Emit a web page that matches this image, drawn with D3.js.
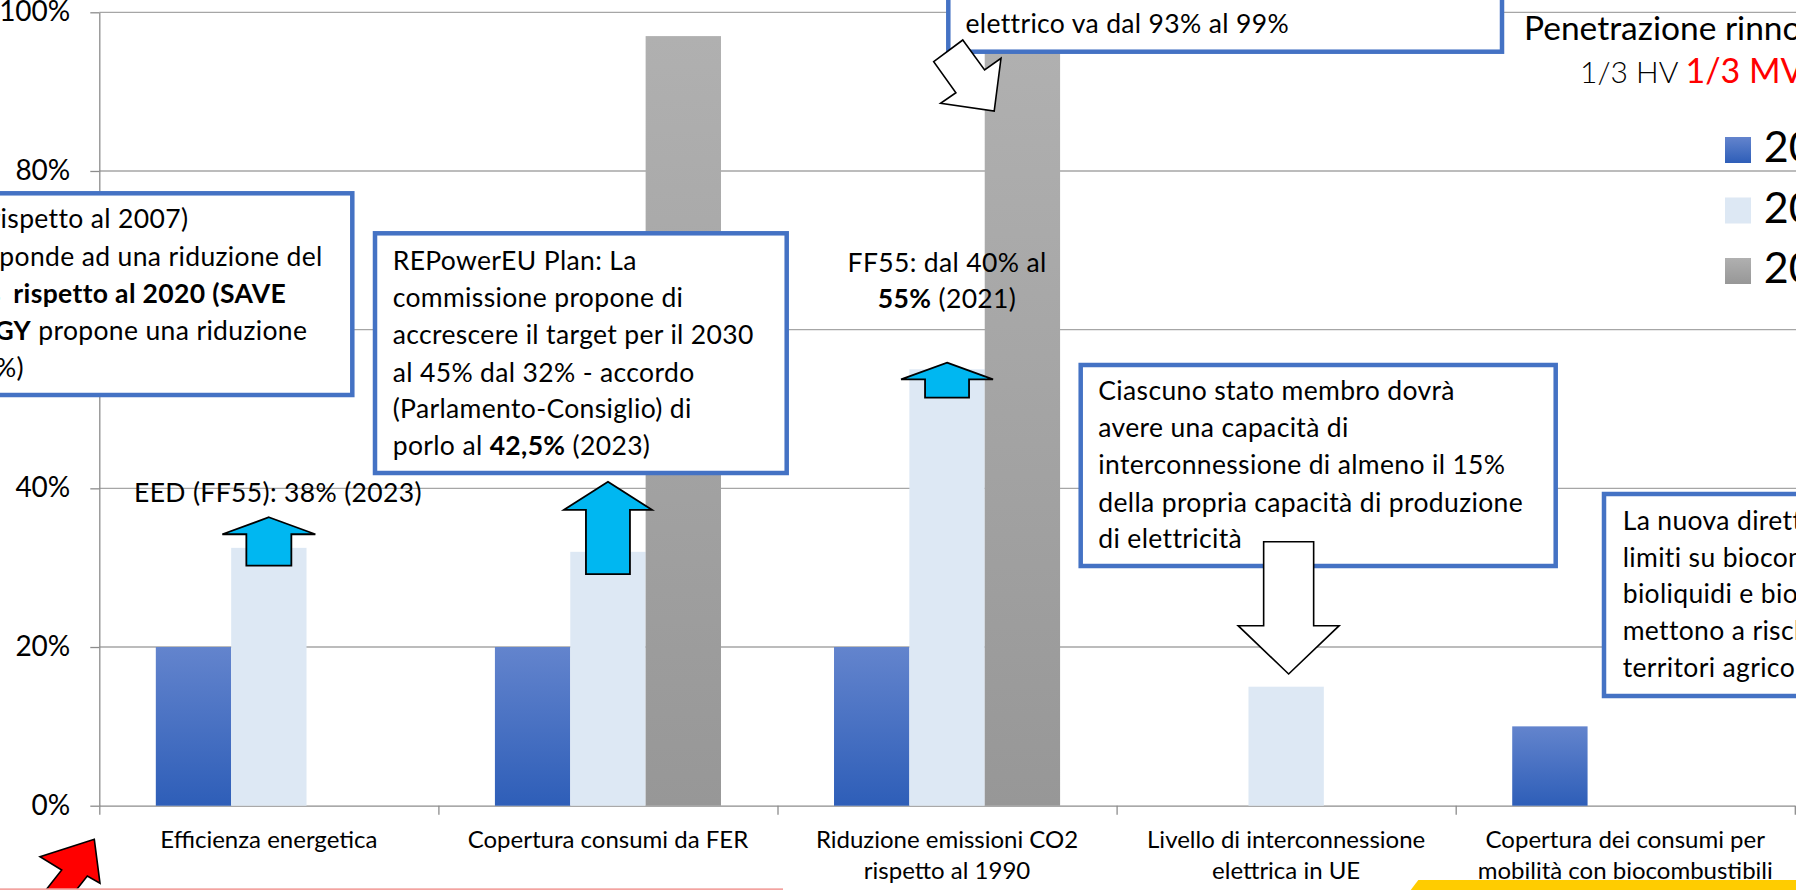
<!DOCTYPE html>
<html>
<head>
<meta charset="utf-8">
<script src="https://cdn.jsdelivr.net/npm/d3@7"></script>
<style>
  html, body { margin: 0; padding: 0; background: #fff; overflow: hidden; }
  svg { display: block; font-family: Lato, "Open Sans", sans-serif; }
</style>
</head>
<body>
<svg id="chart" width="1796" height="890"></svg>
<script>
// ---- data ----
const categories = [
  ["Efficienza energetica"],
  ["Copertura consumi da FER"],
  ["Riduzione emissioni CO2", "rispetto al 1990"],
  ["Livello di interconnessione", "elettrica in UE"],
  ["Copertura dei consumi per", "mobilità con biocombustibili"]
];
const seriesNames = ["2020", "2030", "2050"];
const values2020 = [20, 20, 20, null, 10];
const values2030 = [32.5, 32, 55, 15, null];
const values2050 = [null, 97, 95, null, null];
const yTicks = [0, 20, 40, 60, 80, 100];

// ---- layout ----
const W = 1796, H = 890;
const plot = { left: 99.3, right: 1794.8, top: 12.3, bottom: 805.7 };
const BOX_BLUE = "#4472c4";
const FS_NOTE = 26.5;

const svg = d3.select("#chart");
const catKeys = categories.map(c => c.join(" "));
const seriesValues = [values2020, values2030, values2050];

const x = d3.scaleBand().domain(catKeys).range([plot.left, plot.right]).paddingInner(0).paddingOuter(0);
const xs = d3.scaleBand().domain(seriesNames).range([0, x.bandwidth()]).paddingInner(0).paddingOuter(0.75);
const y = d3.scaleLinear().domain([0, 100]).range([plot.bottom, plot.top]);
const xEdge = d3.scaleLinear().domain([0, categories.length]).range([plot.left, plot.right]);

// ---- gradients ----
const defs = svg.append("defs");
function vGrad(id, top, bottom) {
  const g = defs.append("linearGradient").attr("id", id)
    .attr("x1", 0).attr("y1", 0).attr("x2", 0).attr("y2", 1);
  g.append("stop").attr("offset", "0%").attr("stop-color", top);
  g.append("stop").attr("offset", "100%").attr("stop-color", bottom);
}
vGrad("gBlue", "#6384cd", "#2e5eb8");
vGrad("gGray", "#b0b0b0", "#979797");
const seriesFill = { "2020": "url(#gBlue)", "2030": "#dde8f4", "2050": "url(#gGray)" };

// ---- gridlines ----
svg.append("g")
  .selectAll("line")
  .data(yTicks.filter(d => d > 0))
  .join("line")
  .attr("x1", plot.left).attr("x2", W)
  .attr("y1", d => y(d)).attr("y2", d => y(d))
  .attr("stroke", "#a6a6a6").attr("stroke-width", 1.3);

// ---- axes ----
const yAxisG = svg.append("g")
  .attr("transform", `translate(${plot.left},0)`)
  .call(d3.axisLeft(y).tickValues(yTicks).tickFormat(d => d + "%").tickSize(9).tickSizeOuter(0).tickPadding(20));
yAxisG.select(".domain").attr("stroke", "#8c8c8c").attr("stroke-width", 1.3);
yAxisG.selectAll(".tick line").attr("stroke", "#8c8c8c").attr("stroke-width", 1.3);
yAxisG.selectAll(".tick text")
  .attr("font-family", "Lato, sans-serif").attr("font-size", 28).attr("fill", "#000")
  .attr("dy", "0.3em");

const xAxisG = svg.append("g")
  .attr("transform", `translate(0,${plot.bottom})`)
  .call(d3.axisBottom(xEdge).tickValues(d3.range(0, categories.length + 1)).tickSize(9).tickSizeOuter(0).tickFormat(""));
xAxisG.select(".domain").attr("stroke", "#8c8c8c").attr("stroke-width", 1.3);
xAxisG.selectAll(".tick line").attr("stroke", "#8c8c8c").attr("stroke-width", 1.3);

// category labels (two lines where needed)
const catLabels = svg.append("g")
  .attr("font-size", 24).attr("fill", "#000").attr("text-anchor", "middle");
categories.forEach((lines, i) => {
  const t = catLabels.append("text")
    .attr("x", x(catKeys[i]) + x.bandwidth() / 2)
    .attr("y", 848.3);
  lines.forEach((ln, j) => {
    t.append("tspan").attr("x", x(catKeys[i]) + x.bandwidth() / 2)
      .attr("dy", j === 0 ? 0 : 31).text(ln);
  });
});

// ---- bars ----
const barData = [];
catKeys.forEach((k, i) => {
  seriesNames.forEach((s, j) => {
    const v = seriesValues[j][i];
    if (v != null) barData.push({ cat: k, series: s, value: v });
  });
});
svg.append("g")
  .selectAll("rect")
  .data(barData)
  .join("rect")
  .attr("x", d => x(d.cat) + xs(d.series))
  .attr("width", xs.bandwidth())
  .attr("y", d => y(d.value))
  .attr("height", d => y(0) - y(d.value))
  .attr("fill", d => seriesFill[d.series]);

// ---- annotation helpers ----
const notes = svg.append("g").attr("font-size", FS_NOTE).attr("letter-spacing", 0.35).attr("fill", "#000");

function box(x0, y0, x1, y1) {
  notes.append("rect")
    .attr("x", x0).attr("y", y0).attr("width", x1 - x0).attr("height", y1 - y0)
    .attr("fill", "#fff").attr("stroke", BOX_BLUE).attr("stroke-width", 4.5);
}
// each line: array of [text, bold]
function textLines(xPos, baselines, lines, anchor) {
  lines.forEach((segs, i) => {
    const xi = Array.isArray(xPos) ? xPos[i] : xPos;
    const t = notes.append("text").attr("x", xi).attr("y", baselines[i])
      .attr("text-anchor", anchor || "start").attr("xml:space", "preserve");
    segs.forEach(([s, b]) => t.append("tspan").attr("font-weight", b ? 700 : 400).text(s));
  });
}
function arrow(points, fill, sw) {
  notes.append("polygon")
    .attr("points", points.map(p => p.join(",")).join(" "))
    .attr("fill", fill).attr("stroke", "#000").attr("stroke-width", sw || 1.6)
    .attr("stroke-linejoin", "miter");
}
// upward block arrow centred on a bar top
function upArrow(cat, series, value, tipOff, headOff, bottomOff, headHalf, shaftHalf) {
  const cx = x(cat) + xs(series) + xs.bandwidth() / 2;
  const top = y(value);
  arrow([
    [cx, top + tipOff],
    [cx + headHalf, top + headOff],
    [cx + shaftHalf, top + headOff],
    [cx + shaftHalf, top + bottomOff],
    [cx - shaftHalf, top + bottomOff],
    [cx - shaftHalf, top + headOff],
    [cx - headHalf, top + headOff]
  ], "#00b7f1", 1.8);
}

// ---- left note (efficiency) ----
box(-20, 193.3, 352.3, 395);
textLines([188.3, 322.7, 286, 307.3, 24], [228.3, 265.7, 303.3, 340, 376.7], [
  [["32,5% (rispetto al 2007)"]],
  [["che corrisponde ad una riduzione del"]],
  [[" rispetto al 2020 (SAVE", true]],
  [["ENERGY", true], [" propone una riduzione"]],
  [["del 13%)"]]
], "end");
textLines(1, [303.3], [[["9%", true]]], "end");

// ---- REPowerEU note ----
box(375, 233.3, 786.7, 473);
textLines(392.7, [270, 307.3, 344.3, 381.7, 418.3, 455], [
  [["REPowerEU Plan: La"]],
  [["commissione propone di"]],
  [["accrescere il target per il 2030"]],
  [["al 45% dal 32% - accordo"]],
  [["(Parlamento-Consiglio) di"]],
  [["porlo al "], ["42,5%", true], [" (2023)"]]
]);

// ---- top note (electricity 2050) ----
box(948.3, -30, 1502, 51.7);
textLines(965.5, [-4, 33], [
  [["rinnovabile nel settore"]],
  [["elettrico va dal 93% al 99%"]]
]);

// ---- interconnection note ----
box(1080.7, 365, 1555.7, 566);
textLines(1098.3, [400, 437.3, 474.3, 511.7, 547.7], [
  [["Ciascuno stato membro dovrà"]],
  [["avere una capacità di"]],
  [["interconnessione di almeno il 15%"]],
  [["della propria capacità di produzione"]],
  [["di elettricità"]]
]);

// ---- biofuel note ----
box(1604, 494, 1830, 696);
textLines(1622.7, [530, 566.7, 603.3, 640, 676.7], [
  [["La nuova direttiva pone"]],
  [["limiti su biocombustibili,"]],
  [["bioliquidi e biomasse che"]],
  [["mettono a rischio i"]],
  [["territori agricoli"]]
]);

// ---- free labels ----
textLines(134, [501.7], [[["EED (FF55): 38% (2023)"]]]);
const co2x = x(catKeys[2]) + xs("2030") + xs.bandwidth() / 2;
textLines(co2x, [271.7, 308.3], [
  [["FF55: dal 40% al"]],
  [["55%", true], [" (2021)"]]
], "middle");

// ---- arrows ----
upArrow(catKeys[0], "2030", values2030[0], -30.6, -13.6, 17.7, 46.5, 22.5);
upArrow(catKeys[1], "2030", values2030[1], -70, -42, 22.3, 44, 22);
upArrow(catKeys[2], "2030", values2030[2], -6.7, 10, 28.3, 46, 22);

// downward arrow onto the interconnection bar
{
  const cx = x(catKeys[3]) + xs("2030") + xs.bandwidth() / 2 + 2.5;
  const tip = y(values2030[3]) - 12.7;
  arrow([
    [cx - 25, 541.7], [cx + 25, 541.7], [cx + 25, 625.7], [cx + 50.5, 625.7],
    [cx, tip], [cx - 50.5, 625.7], [cx - 25, 625.7]
  ], "#fff", 1.6);
}
// tilted arrow from the top note towards the 2050 bar
arrow([[962.8, 40], [984.6, 70], [1001, 58.3], [994.2, 111], [940.6, 103.3], [955.9, 92.7], [933.7, 61.7]], "#fff", 1.6);

// red arrow in the lower-left corner
arrow([[94.3, 839.3], [100, 883.3], [87.3, 876], [68.9, 899.3], [43.3, 893.3], [61.7, 870], [40, 856.7]], "#ff0000", 1.6);

// ---- legend ----
const legend = svg.append("g");
const legendY = [137, 197.5, 258];
seriesNames.forEach((s, i) => {
  legend.append("rect").attr("x", 1725).attr("y", legendY[i]).attr("width", 26).attr("height", 26)
    .attr("fill", seriesFill[s]);
  legend.append("text").attr("x", 1763.7).attr("y", legendY[i] + 25)
    .attr("font-size", 43).attr("fill", "#000").text(s);
});

// ---- title (renewable penetration) ----
svg.append("text").attr("x", 1524).attr("y", 40).attr("font-size", 33.5).attr("fill", "#000")
  .text("Penetrazione rinnovabile");
const sub = svg.append("text").attr("x", 1580).attr("y", 83.3).attr("font-size", 30)
  .attr("xml:space", "preserve");
sub.append("tspan").attr("font-weight", 300).attr("fill", "#000").text("1/3 HV ");
sub.append("tspan").attr("fill", "#ff0000").attr("font-size", 34).text("1/3 MV");
sub.append("tspan").attr("font-weight", 300).attr("fill", "#000").text(" 1/3 LV");

// ---- slide decorations along the bottom edge ----
svg.append("rect").attr("x", 0).attr("y", 888.3).attr("width", 783).attr("height", 1.7).attr("fill", "#f3a3a0");
svg.append("polygon").attr("points", "1410,891 1418.3,880 1800,880 1800,891").attr("fill", "#ffcc00");
</script>
</body>
</html>
